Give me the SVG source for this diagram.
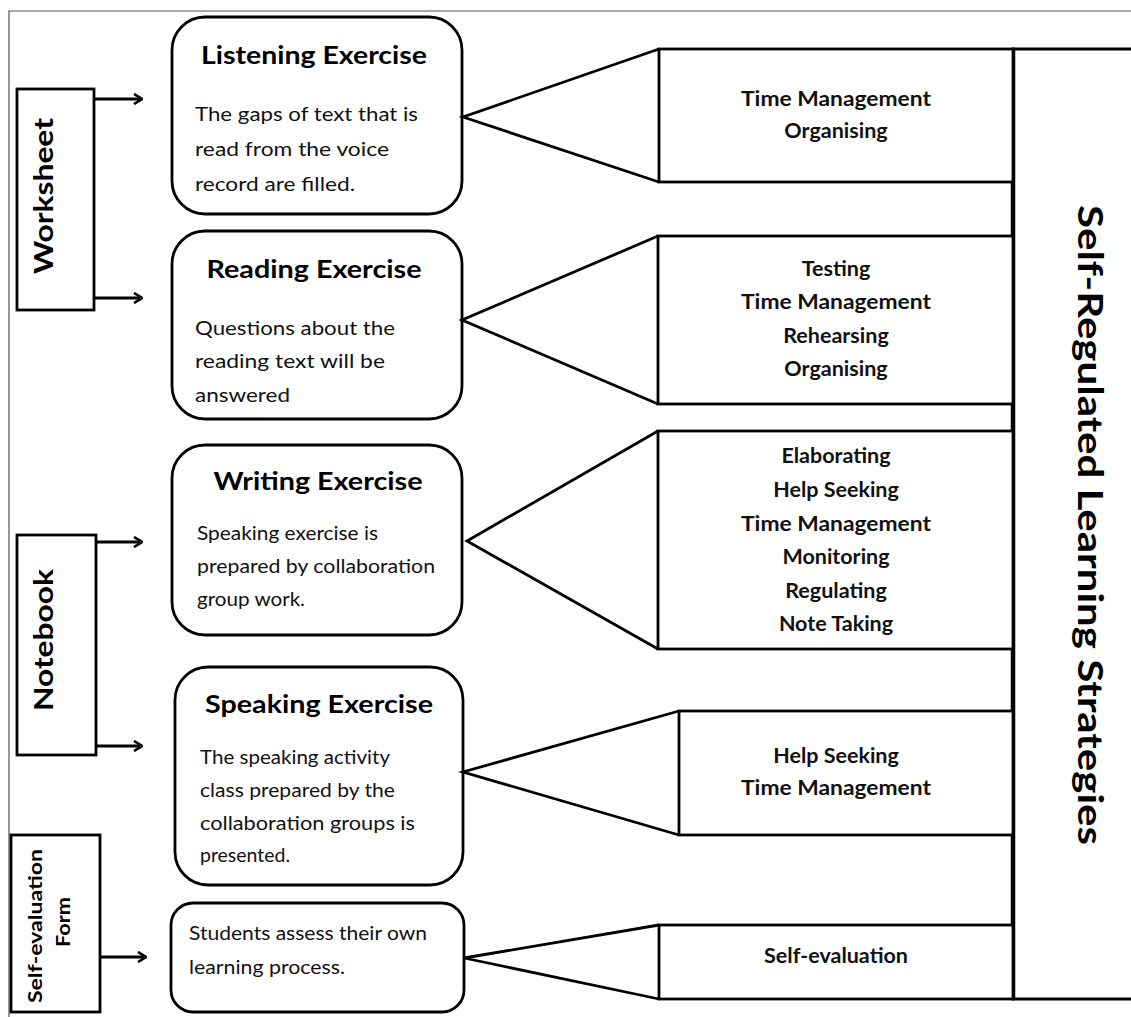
<svg xmlns="http://www.w3.org/2000/svg" width="1131" height="1017" viewBox="0 0 1131 1017">
<style>
.frame{fill:none;stroke:#555;stroke-width:1.2}
.box{fill:#fff;stroke:#000;stroke-width:2.8}
.strat{fill:#fff;stroke:#000;stroke-width:2.8}
.tri{fill:none;stroke:#000;stroke-width:2.8;stroke-linejoin:miter}
.conn{fill:none;stroke:#000;stroke-width:2.8}
.title{font-family:Lato,"Open Sans",sans-serif;font-weight:bold;font-size:25px;fill:#000;text-anchor:middle}
.body{font-family:Lato,"Open Sans",sans-serif;font-size:19.5px;fill:#111}
.st{font-family:Lato,"Open Sans",sans-serif;font-weight:bold;font-size:21.5px;fill:#111;text-anchor:middle}
.side{font-family:Lato,"Open Sans",sans-serif;font-weight:bold;font-size:26px;fill:#000;text-anchor:middle}
.side2{font-family:Lato,"Open Sans",sans-serif;font-weight:bold;font-size:19px;fill:#000;text-anchor:middle}
.big{font-family:Lato,"Open Sans",sans-serif;font-weight:bold;font-size:34px;fill:#000;text-anchor:middle}
</style>
<defs>
<marker id="arr" viewBox="0 0 12 12" refX="11" refY="6" markerWidth="12" markerHeight="12" markerUnits="userSpaceOnUse" orient="auto">
<polyline points="3,1 11,6 3,11" fill="none" stroke="#000" stroke-width="2.6" stroke-linejoin="miter"/>
</marker>
</defs>
<rect width="1131" height="1017" fill="#fff"/>
<polyline class="frame" points="9,1017 9,11 1131,11"/>

<g id="srl">
<rect x="1013" y="49" width="140" height="950" fill="#fff" stroke="#000" stroke-width="3"/>
<line x1="1013" y1="49" x2="1013" y2="999" stroke="#000" stroke-width="4.5"/>
<text class="big" transform="translate(1090,525) rotate(90)" y="12" textLength="640" lengthAdjust="spacingAndGlyphs">Self-Regulated Learning Strategies</text>
</g>

<g id="worksheet">
<rect class="box" x="17" y="89" width="77" height="221"/>
<text class="side" transform="translate(44,196) rotate(-90)" y="9" textLength="156" lengthAdjust="spacingAndGlyphs">Worksheet</text>
</g>
<g id="notebook">
<rect class="box" x="17" y="535" width="79" height="220"/>
<text class="side" transform="translate(44,640) rotate(-90)" y="9" textLength="142" lengthAdjust="spacingAndGlyphs">Notebook</text>
</g>
<g id="selfevalform">
<rect class="box" x="11" y="835" width="89" height="177"/>
<text class="side2" transform="translate(35,926) rotate(-90)" y="7" textLength="154" lengthAdjust="spacingAndGlyphs">Self-evaluation</text>
<text class="side2" transform="translate(63,922) rotate(-90)" y="7" textLength="50" lengthAdjust="spacingAndGlyphs">Form</text>
</g>

<g id="listening">
<rect class="box" x="172" y="17" width="290" height="197" rx="33"/>
<text class="title" x="314" y="64" textLength="226" lengthAdjust="spacingAndGlyphs">Listening Exercise</text>
<text class="body" x="195" y="121" textLength="223" lengthAdjust="spacingAndGlyphs">The gaps of text that is</text>
<text class="body" x="195" y="156" textLength="194" lengthAdjust="spacingAndGlyphs">read from the voice</text>
<text class="body" x="195" y="191" textLength="160" lengthAdjust="spacingAndGlyphs">record are filled.</text>
</g>
<g id="reading">
<rect class="box" x="172" y="231" width="290" height="188" rx="33"/>
<text class="title" x="314" y="278" textLength="215" lengthAdjust="spacingAndGlyphs">Reading Exercise</text>
<text class="body" x="195" y="335" textLength="200" lengthAdjust="spacingAndGlyphs">Questions about the</text>
<text class="body" x="195" y="368" textLength="190" lengthAdjust="spacingAndGlyphs">reading text will be</text>
<text class="body" x="195" y="402" textLength="95" lengthAdjust="spacingAndGlyphs">answered</text>
</g>
<g id="writing">
<rect class="box" x="172" y="445" width="290" height="190" rx="33"/>
<text class="title" x="318" y="490" textLength="209" lengthAdjust="spacingAndGlyphs">Writing Exercise</text>
<text class="body" x="197" y="540" textLength="181" lengthAdjust="spacingAndGlyphs">Speaking exercise is</text>
<text class="body" x="197" y="573" textLength="238" lengthAdjust="spacingAndGlyphs">prepared by collaboration</text>
<text class="body" x="197" y="606" textLength="108" lengthAdjust="spacingAndGlyphs">group work.</text>
</g>
<g id="speaking">
<rect class="box" x="175" y="667" width="288" height="218" rx="33"/>
<text class="title" x="319" y="713" textLength="228" lengthAdjust="spacingAndGlyphs">Speaking Exercise</text>
<text class="body" x="200" y="764" textLength="190" lengthAdjust="spacingAndGlyphs">The speaking activity</text>
<text class="body" x="200" y="797" textLength="195" lengthAdjust="spacingAndGlyphs">class prepared by the</text>
<text class="body" x="200" y="830" textLength="215" lengthAdjust="spacingAndGlyphs">collaboration groups is</text>
<text class="body" x="200" y="862" textLength="90" lengthAdjust="spacingAndGlyphs">presented.</text>
</g>
<g id="selfeval">
<rect class="box" x="171" y="903" width="293" height="109" rx="22"/>
<text class="body" x="189" y="940" textLength="238" lengthAdjust="spacingAndGlyphs">Students assess their own</text>
<text class="body" x="189" y="974" textLength="156" lengthAdjust="spacingAndGlyphs">learning process.</text>
</g>

<g id="s1">
<rect class="strat" x="659" y="49" width="354" height="133"/>
<text class="st" x="836" y="106" textLength="190" lengthAdjust="spacingAndGlyphs">Time Management</text>
<text class="st" x="836" y="138">Organising</text>
</g>
<g id="s2">
<rect class="strat" x="658" y="236" width="355" height="168"/>
<text class="st" x="836" y="276">Testing</text>
<text class="st" x="836" y="309" textLength="190" lengthAdjust="spacingAndGlyphs">Time Management</text>
<text class="st" x="836" y="343">Rehearsing</text>
<text class="st" x="836" y="376">Organising</text>
</g>
<g id="s3">
<rect class="strat" x="658" y="431" width="355" height="218"/>
<text class="st" x="836" y="463">Elaborating</text>
<text class="st" x="836" y="497">Help Seeking</text>
<text class="st" x="836" y="531" textLength="190" lengthAdjust="spacingAndGlyphs">Time Management</text>
<text class="st" x="836" y="564">Monitoring</text>
<text class="st" x="836" y="598">Regulating</text>
<text class="st" x="836" y="631">Note Taking</text>
</g>
<g id="s4">
<rect class="strat" x="679" y="711" width="334" height="124"/>
<text class="st" x="836" y="763">Help Seeking</text>
<text class="st" x="836" y="795" textLength="190" lengthAdjust="spacingAndGlyphs">Time Management</text>
</g>
<g id="s5">
<rect class="strat" x="659" y="925" width="354" height="74"/>
<text class="st" x="836" y="963">Self-evaluation</text>
</g>

<g id="connectors">
<polyline class="tri" points="659,49 463,117 659,182"/>
<polyline class="tri" points="658,236 462,320 658,404"/>
<polyline class="tri" points="658,431 467,541 658,649"/>
<polyline class="tri" points="679,711 463,772 679,835"/>
<polyline class="tri" points="659,925 464,958 659,999"/>
<line class="conn" x1="94" y1="99" x2="142" y2="99" marker-end="url(#arr)"/>
<line class="conn" x1="94" y1="298" x2="142" y2="298" marker-end="url(#arr)"/>
<line class="conn" x1="96" y1="542" x2="142" y2="542" marker-end="url(#arr)"/>
<line class="conn" x1="96" y1="746" x2="142" y2="746" marker-end="url(#arr)"/>
<line class="conn" x1="100" y1="957" x2="146" y2="957" marker-end="url(#arr)"/>
</g>
</svg>
